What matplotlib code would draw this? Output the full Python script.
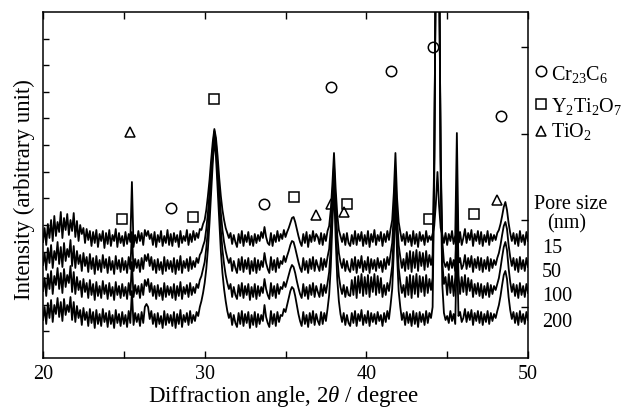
import matplotlib
matplotlib.use("Agg")
import matplotlib.pyplot as plt
from matplotlib.lines import Line2D
import numpy as np

plt.rcParams['font.family'] = ['Liberation Serif', 'DejaVu Serif']
plt.rcParams['mathtext.fontset'] = 'custom'
plt.rcParams['mathtext.rm'] = 'Liberation Serif'
plt.rcParams['mathtext.it'] = 'Liberation Serif:italic'

# 2theta grid: 20.0 .. 50.0 in 0.1 degree steps
two_theta = np.round(np.arange(20.0, 50.01, 0.1), 1)

# intensity above each pattern's own baseline (arbitrary unit), one row per degree
int_15 = [
    8, 22, 5, 26, 12, 30, 9, 34, 14, 28,
    18, 38, 12, 32, 20, 36, 15, 30, 19, 37,
    13, 29, 9, 25, 16, 22, 7, 21, 10, 19,
    4, 18, 7, 20, 3, 16, 9, 19, 2, 17,
    6, 20, 4, 15, 9, 21, 3, 17, 7, 14,
    4, 18, 6, 16, 8, 68, 3, 15, 7, 19,
    9, 17, 5, 20, 14, 19, 11, 16, 5, 18,
    3, 15, 8, 19, 4, 14, 7, 20, 5, 16,
    4, 17, 8, 15, 3, 19, 7, 14, 9, 20,
    5, 16, 8, 19, 10, 17, 12, 21, 20, 26,
    30, 40, 54, 70, 90, 108, 121, 112, 94, 72,
    54, 40, 30, 22, 17, 12, 17, 6, 15, 8,
    3, 16, 7, 19, 4, 15, 8, 18, 5, 14,
    4, 16, 7, 15, 9, 18, 12, 23, 13, 7,
    5, 17, 4, 15, 8, 19, 9, 16, 11, 20,
    13, 18, 22, 27, 32, 33, 28, 21, 14, 8,
    4, 16, 7, 18, 3, 15, 8, 19, 9, 16,
    13, 6, 17, 5, 16, 9, 19, 24, 40, 66,
    97, 62, 36, 20, 14, 8, 16, 5, 17, 7,
    4, 15, 6, 19, 5, 16, 9, 18, 4, 15,
    6, 19, 3, 16, 8, 20, 5, 15, 9, 18,
    4, 16, 8, 19, 10, 21, 30, 57, 97, 52,
    28, 18, 9, 16, 5, 18, 8, 15, 4, 19,
    6, 16, 3, 18, 9, 15, 5, 19, 8, 14,
    10, 16, 24, 46, 78, 44, 22, 15, 7, 17,
    5, 16, 9, 19, 6, 15, 117, 7, 18, 5,
    12, 21, 7, 17, 10, 20, 4, 16, 9, 19,
    6, 18, 4, 15, 8, 19, 5, 16, 9, 15,
    10, 17, 20, 26, 34, 43, 48, 40, 27, 17,
    9, 17, 6, 16, 4, 19, 8, 15, 5, 18,
    9,
]
int_50 = [
    12, 24, 7, 29, 14, 32, 9, 26, 17, 35,
    13, 30, 10, 34, 16, 28, 20, 37, 11, 31,
    9, 26, 13, 22, 6, 24, 11, 20, 5, 23,
    8, 19, 3, 21, 7, 17, 5, 22, 9, 18,
    4, 20, 7, 16, 3, 21, 8, 17, 5, 19,
    7, 16, 4, 20, 8, 45, 6, 18, 9, 17,
    5, 19, 8, 22, 16, 23, 11, 20, 7, 17,
    4, 18, 7, 15, 3, 20, 6, 17, 8, 16,
    5, 19, 3, 17, 7, 21, 4, 16, 9, 18,
    6, 20, 8, 16, 10, 19, 14, 22, 25, 31,
    36, 48, 64, 84, 106, 128, 146, 134, 110, 86,
    64, 47, 35, 26, 19, 14, 19, 6, 16, 9,
    4, 18, 7, 20, 5, 17, 8, 19, 3, 16,
    6, 19, 4, 17, 7, 16, 10, 24, 14, 8,
    4, 20, 7, 17, 5, 19, 9, 16, 13, 21,
    15, 21, 26, 32, 36, 35, 29, 22, 15, 9,
    5, 19, 7, 16, 4, 18, 8, 20, 6, 17,
    11, 6, 19, 7, 18, 10, 20, 28, 48, 80,
    112, 72, 42, 24, 15, 9, 18, 6, 16, 8,
    5, 18, 7, 20, 4, 17, 9, 21, 5, 16,
    7, 20, 4, 18, 8, 17, 6, 19, 9, 16,
    5, 18, 8, 20, 12, 23, 34, 64, 105, 60,
    32, 20, 9, 18, 6, 24, 8, 26, 5, 25,
    9, 27, 6, 25, 11, 24, 7, 26, 10, 22,
    12, 22, 120, 320, 900, 320, 120, 36, 15, 10,
    15, 7, 19, 9, 17, 6, 85, 14, 19, 8,
    12, 22, 8, 19, 10, 21, 5, 18, 9, 20,
    7, 19, 5, 17, 8, 20, 6, 18, 9, 17,
    12, 19, 24, 32, 42, 51, 55, 48, 32, 20,
    11, 19, 7, 18, 5, 20, 8, 17, 6, 19,
    10,
]
int_100 = [
    13, 26, 8, 30, 15, 33, 10, 28, 19, 36,
    15, 31, 11, 35, 17, 29, 21, 38, 12, 32,
    10, 27, 14, 23, 7, 25, 12, 21, 6, 24,
    9, 20, 4, 22, 8, 18, 6, 23, 10, 19,
    5, 21, 8, 17, 4, 22, 9, 18, 6, 20,
    8, 17, 5, 21, 9, 42, 7, 19, 10, 18,
    6, 20, 9, 24, 18, 25, 12, 21, 8, 18,
    5, 19, 8, 16, 4, 21, 7, 18, 9, 17,
    6, 20, 4, 18, 8, 22, 5, 17, 10, 19,
    7, 21, 9, 17, 11, 20, 16, 24, 28, 35,
    42, 56, 74, 98, 124, 150, 170, 156, 128, 100,
    74, 54, 40, 29, 21, 15, 20, 7, 17, 9,
    5, 19, 8, 21, 6, 18, 9, 20, 4, 17,
    7, 20, 5, 18, 8, 17, 11, 25, 15, 9,
    5, 21, 8, 18, 6, 20, 10, 17, 15, 22,
    17, 23, 29, 35, 39, 37, 31, 23, 16, 10,
    6, 20, 8, 17, 5, 19, 9, 21, 7, 18,
    12, 7, 20, 8, 19, 11, 21, 32, 56, 94,
    129, 84, 48, 28, 17, 10, 19, 7, 17, 9,
    8, 24, 9, 27, 6, 28, 11, 30, 8, 27,
    10, 29, 7, 27, 12, 30, 9, 28, 11, 26,
    7, 19, 9, 21, 13, 25, 38, 72, 118, 68,
    36, 22, 11, 19, 7, 27, 9, 29, 6, 28,
    10, 30, 7, 28, 12, 27, 8, 29, 11, 25,
    14, 26, 140, 360, 1000, 360, 140, 42, 20, 27,
    9, 30, 11, 28, 8, 27, 95, 29, 10, 27,
    12, 29, 9, 26, 13, 24, 7, 20, 10, 21,
    8, 20, 6, 18, 9, 21, 7, 19, 10, 18,
    14, 20, 26, 36, 47, 57, 62, 54, 36, 22,
    12, 20, 8, 19, 6, 21, 9, 18, 7, 20,
    11,
]
int_200 = [
    11, 24, 7, 28, 13, 31, 9, 26, 17, 33,
    14, 29, 10, 32, 16, 26, 19, 34, 11, 29,
    9, 25, 13, 21, 6, 23, 11, 19, 5, 22,
    8, 19, 3, 21, 7, 17, 5, 22, 9, 18,
    4, 20, 7, 16, 3, 21, 8, 17, 5, 19,
    7, 16, 4, 20, 8, 40, 6, 18, 9, 17,
    5, 19, 8, 24, 27, 24, 12, 20, 7, 17,
    4, 18, 7, 15, 3, 20, 6, 17, 8, 16,
    5, 19, 3, 17, 7, 21, 4, 16, 9, 18,
    6, 20, 8, 16, 10, 19, 15, 24, 30, 38,
    48, 62, 82, 108, 138, 168, 192, 174, 142, 110,
    80, 58, 42, 30, 20, 13, 18, 6, 16, 8,
    4, 18, 7, 20, 5, 17, 8, 19, 3, 16,
    6, 19, 4, 17, 7, 16, 10, 26, 14, 8,
    4, 20, 7, 17, 5, 19, 9, 16, 15, 22,
    19, 26, 33, 40, 44, 42, 35, 26, 17, 10,
    5, 19, 7, 16, 4, 18, 8, 20, 6, 17,
    10, 6, 19, 7, 18, 10, 22, 36, 64, 108,
    146, 94, 52, 30, 17, 9, 18, 6, 16, 8,
    5, 18, 8, 20, 5, 17, 10, 21, 6, 16,
    8, 20, 5, 18, 9, 17, 7, 19, 10, 16,
    5, 18, 9, 20, 12, 26, 42, 80, 132, 76,
    40, 24, 11, 18, 6, 19, 8, 17, 5, 20,
    7, 18, 4, 19, 9, 17, 6, 20, 8, 18,
    13, 24, 150, 390, 1100, 390, 150, 46, 18, 11,
    15, 8, 20, 10, 17, 7, 90, 15, 19, 9,
    13, 22, 9, 19, 11, 21, 6, 18, 10, 20,
    8, 19, 6, 17, 9, 20, 7, 18, 10, 17,
    13, 20, 26, 35, 46, 56, 60, 52, 34, 21,
    12, 19, 8, 18, 6, 20, 9, 17, 7, 19,
    11,
]
pore_sizes = ['15', '50', '100', '200']
patterns = [int_15, int_50, int_100, int_200]
offsets = [108, 81, 54, 27]

# phase marks (2theta, height)
cr23c6_x = [27.9, 33.7, 37.8, 41.5, 44.15, 48.3]
cr23c6_y = [150, 154, 271, 287, 311, 242]
y2ti2o7_x = [24.9, 29.3, 30.6, 35.5, 38.8, 43.85, 46.65]
y2ti2o7_y = [139, 141, 259, 161, 154, 139, 144]
tio2_x = [25.4, 36.9, 37.8, 38.6, 48.1]
tio2_y = [226, 143, 154, 146, 158]

W, H = 628, 409
fig = plt.figure(figsize=(6.28, 4.09), dpi=100)
ax = fig.add_axes([43 / W, 1 - 358 / H, (528 - 43) / W, (358 - 12) / H])

for vals, off in zip(patterns, offsets):
    ax.plot(two_theta, np.array(vals) + off, color='black', lw=1.3)

mk = dict(linestyle='none', markerfacecolor='none', markeredgecolor='black',
          markersize=7.5, markeredgewidth=1.1)
ax.plot(cr23c6_x, cr23c6_y, marker='o', **mk)
ax.plot(y2ti2o7_x, y2ti2o7_y, marker='s', **mk)
ax.plot(tio2_x, tio2_y, marker='^', **mk)

ax.set_xlim(20, 50)
ax.set_ylim(0, 346)
ax.set_xticks(np.arange(20, 51, 5))
ax.set_xticklabels(['20', '', '30', '', '40', '', '50'], fontsize=14.5)
ax.set_yticks(np.linspace(0, 346, 14)[1:-1])
ax.set_yticklabels([])
ax.tick_params(axis='x', direction='in', top=True, length=5, width=1, pad=5)
ax.tick_params(axis='y', direction='in', left=True, right=False, length=4, width=1)
for s in ax.spines.values():
    s.set_linewidth(1.1)

ax2 = ax.twinx()
ax2.set_ylim(0, 346)
ax2.set_yticks([51.5, 138, 224.5, 311])
ax2.set_yticklabels([])
ax2.tick_params(axis='y', direction='in', length=5, width=1)
for s in ax2.spines.values():
    s.set_visible(False)

fig.text(283 / W, 1 - 402 / H, r'Diffraction angle, 2$\theta$ / degree',
         ha='center', va='baseline', fontsize=16.5)
fig.text(24 / W, 1 - 190 / H, 'Intensity (arbitrary unit)', rotation=90,
         ha='center', va='center', fontsize=16.5)

# phase legend
leg_names = [r'Cr$_{23}$C$_6$', r'Y$_2$Ti$_2$O$_7$', r'TiO$_2$']
leg_marks = ['o', 's', '^']
leg_y = [71, 104, 131]
leg_base = [80, 112, 137]
for name, m, yc, yb in zip(leg_names, leg_marks, leg_y, leg_base):
    fig.add_artist(Line2D([541 / W], [1 - yc / H], transform=fig.transFigure,
                          marker=m, **mk))
    fig.text(551 / W, 1 - yb / H, name, ha='left', va='baseline', fontsize=14.5)

fig.text(534 / W, 1 - 209 / H, 'Pore size', ha='left', va='baseline', fontsize=14.5)
fig.text(567 / W, 1 - 228 / H, '(nm)', ha='center', va='baseline', fontsize=14.5)
for lab, yb in zip(pore_sizes, [253, 277, 301, 327]):
    fig.text(542 / W, 1 - yb / H, lab, ha='left', va='baseline', fontsize=14.5)

fig.savefig('out.png', dpi=100)
